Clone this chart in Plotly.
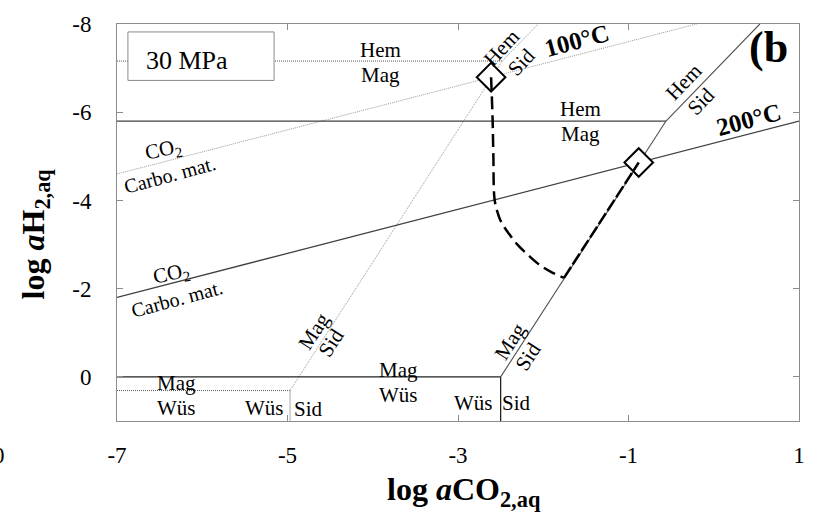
import plotly.graph_objects as go

# ---------------- data (log aCO2, log aH2) ----------------
# 200 degC boundaries
hm200_x = [-7.0, -0.56]; hm200_y = [-5.8, -5.8]      # Hem / Mag
hs200_x = [-0.56, 0.54]; hs200_y = [-5.8, -8.0]      # Hem / Sid
ms200_x = [-2.5, -0.56]; ms200_y = [0.0, -5.8]       # Mag / Sid
mw200_x = [-7.0, -2.5];  mw200_y = [0.0, 0.0]        # Mag / Wus
ws200_x = [-2.5, -2.5];  ws200_y = [0.0, 1.0]        # Wus / Sid
co2_200_x = [-7.0, 1.0]; co2_200_y = [-1.8, -5.8]    # CO2 / Carbo. mat.
# 100 degC boundaries
hm100_x = [-7.0, -2.48]; hm100_y = [-7.16, -7.16]
hs100_x = [-2.48, -2.06]; hs100_y = [-7.16, -8.0]
ms100_x = [-4.97, -2.48]; ms100_y = [0.31, -7.16]
mw100_x = [-7.0, -4.97]; mw100_y = [0.31, 0.31]
ws100_x = [-4.97, -4.97]; ws100_y = [0.31, 1.0]
co2_100_x = [-7.0, -0.2]; co2_100_y = [-4.6, -8.0]
# dashed path between the two diamonds
path_x = [-2.612, -2.595, -2.585, -2.572, -2.54, -2.495, -2.40, -2.30, -2.17, -2.047, -1.90, -1.757]
path_y = [-6.794, -5.9, -5.0, -4.04, -3.75, -3.516, -3.24, -2.993, -2.75, -2.545, -2.37, -2.244]
path2_x = [-1.757, -0.88]; path2_y = [-2.244, -4.86]
diamond_x = [-2.612, -0.88]; diamond_y = [-6.794, -4.86]

xtick_vals = [-7, -5, -3, -1, 1]
xtick_text = ["-7", "-5", "-3", "-1", "1"]
ytick_vals = [-8, -6, -4, -2, 0]
ytick_text = ["-8", "-6", "-4", "-2", "0"]

FONT = "Liberation Serif, Times New Roman, serif"

fig = go.Figure()

def line(x, y, color, width=1.2, dash="solid"):
    fig.add_trace(go.Scatter(x=x, y=y, mode="lines", hoverinfo="skip",
                             line=dict(color=color, width=width, dash=dash),
                             showlegend=False))

# 100 degC (dotted / light)
line(co2_100_x, co2_100_y, "#9a9a9a", 1, "1px,1px")
line(hm100_x, hm100_y, "#555555", 1, "1px,1px")
line(mw100_x, mw100_y, "#555555", 1, "1px,1px")
line(ws100_x, ws100_y, "#555555", 1, "1px,1px")
line(ms100_x, ms100_y, "#b0b0b0", 1, "2px,1px")
line(hs100_x, hs100_y, "#b0b0b0", 1, "2px,1px")
# 200 degC (solid)
line(co2_200_x, co2_200_y, "#404040", 1.3)
line(hm200_x, hm200_y, "#404040", 1.3)
line(hs200_x, hs200_y, "#505050", 1.1)
line(ms200_x, ms200_y, "#505050", 1.1)
line(mw200_x, mw200_y, "#222222", 1.3)
line(ws200_x, ws200_y, "#222222", 1.3)

# diamonds
fig.add_trace(go.Scatter(x=diamond_x, y=diamond_y, mode="markers", hoverinfo="skip",
                         marker=dict(symbol="diamond", size=22, color="white",
                                     line=dict(color="black", width=2)),
                         showlegend=False))
# dashed path
fig.add_trace(go.Scatter(x=path_x, y=path_y, mode="lines", hoverinfo="skip",
                         line=dict(color="black", width=2.5, dash="13px,6px", shape="spline"),
                         showlegend=False))
fig.add_trace(go.Scatter(x=path2_x, y=path2_y, mode="lines", hoverinfo="skip",
                         line=dict(color="black", width=2.5, dash="13px,3px"),
                         showlegend=False))

ann = []
def txt(x, y, s, size=21, angle=0, bold=False):
    if bold:
        s = "<b>" + s + "</b>"
    ann.append(dict(x=x, y=y, xref="x", yref="y", text=s, showarrow=False,
                    xanchor="center", yanchor="middle",
                    textangle=angle, font=dict(family=FONT, size=size, color="black")))

txt(-6.184, -7.17, "30 MPa", 26)
txt(-3.913, -7.417, "Hem"); txt(-3.913, -6.834, "Mag")
txt(-2.493, -7.462, "Hem", 21, -47); txt(-2.257, -7.141, "Sid", 21, -47)
txt(-1.601, -7.62, "100°C", 25, -15, True)
txt(0.64, -7.46, "(b", 44, 0, True)
txt(-0.356, -6.693, "Hem", 21, -46); txt(-0.143, -6.244, "Sid", 21, -46)
txt(-1.562, -6.072, "Hem"); txt(-1.562, -5.511, "Mag")
txt(0.411, -5.83, "200°C", 25, -15, True)
txt(-6.452, -5.15, "CO<sub>2</sub>", 21, -12)
txt(-6.382, -4.570, "Carbo. mat.", 20, -15)
txt(-6.359, -2.34, "CO<sub>2</sub>", 21, -12)
txt(-6.30, -1.767, "Carbo. mat.", 20, -15)
txt(-6.30, 0.139, "Mag"); txt(-6.30, 0.70, "Wüs")
txt(-5.266, 0.70, "Wüs"); txt(-4.749, 0.72, "Sid")
txt(-3.70, -0.152, "Mag"); txt(-3.70, 0.408, "Wüs")
txt(-2.813, 0.581, "Wüs"); txt(-2.312, 0.581, "Sid")
txt(-4.691, -1.049, "Mag", 21, -57); txt(-4.481, -0.78, "Sid", 21, -57)
txt(-2.382, -0.803, "Mag", 21, -57); txt(-2.172, -0.466, "Sid", 21, -57)

# axis titles
ann.append(dict(x=0.5087, y=-0.177, xref="paper", yref="paper", showarrow=False,
                xanchor="center", yanchor="middle",
                text="<b>log <i>a</i>CO<sub>2,aq</sub></b>",
                font=dict(family=FONT, size=32, color="black")))
ann.append(dict(x=-0.1195, y=0.4713, xref="paper", yref="paper", showarrow=False,
                xanchor="center", yanchor="middle",
                text="<b>log <i>a</i>H<sub>2,aq</sub></b>", textangle=-90,
                font=dict(family=FONT, size=32, color="black")))
# stray label of neighbouring panel
ann.append(dict(x=-0.1735, y=-0.088, xref="paper", yref="paper", showarrow=False,
                xanchor="center", yanchor="middle",
                text="0", font=dict(family=FONT, size=23, color="black")))

fig.update_layout(
    width=817, height=517,
    margin=dict(l=117, r=14, t=20, b=96),
    paper_bgcolor="white", plot_bgcolor="white",
    annotations=ann,
    shapes=[dict(type="rect", xref="paper", yref="paper", x0=0.016, x1=0.2303,
                 y0=0.8579, y1=0.98, line=dict(color="#8a8a8a", width=1),
                 fillcolor="white", layer="above")],
    font=dict(family=FONT, size=23, color="black"),
)
fig.update_xaxes(range=[-7, 1], tickvals=xtick_vals, ticktext=xtick_text,
                 showgrid=False, zeroline=False, showline=True, linecolor="#8c8c8c",
                 linewidth=1, mirror="ticks", ticks="inside", ticklen=6,
                 tickcolor="#8c8c8c", ticklabelstandoff=13,
                 tickfont=dict(family=FONT, size=23, color="black"))
fig.update_yaxes(range=[1, -8], tickvals=ytick_vals, ticktext=ytick_text,
                 showgrid=False, zeroline=False, showline=True, linecolor="#8c8c8c",
                 linewidth=1, mirror="ticks", ticks="inside", ticklen=6,
                 tickcolor="#8c8c8c", ticklabelstandoff=20,
                 tickfont=dict(family=FONT, size=23, color="black"))

fig.write_html("out.html")
